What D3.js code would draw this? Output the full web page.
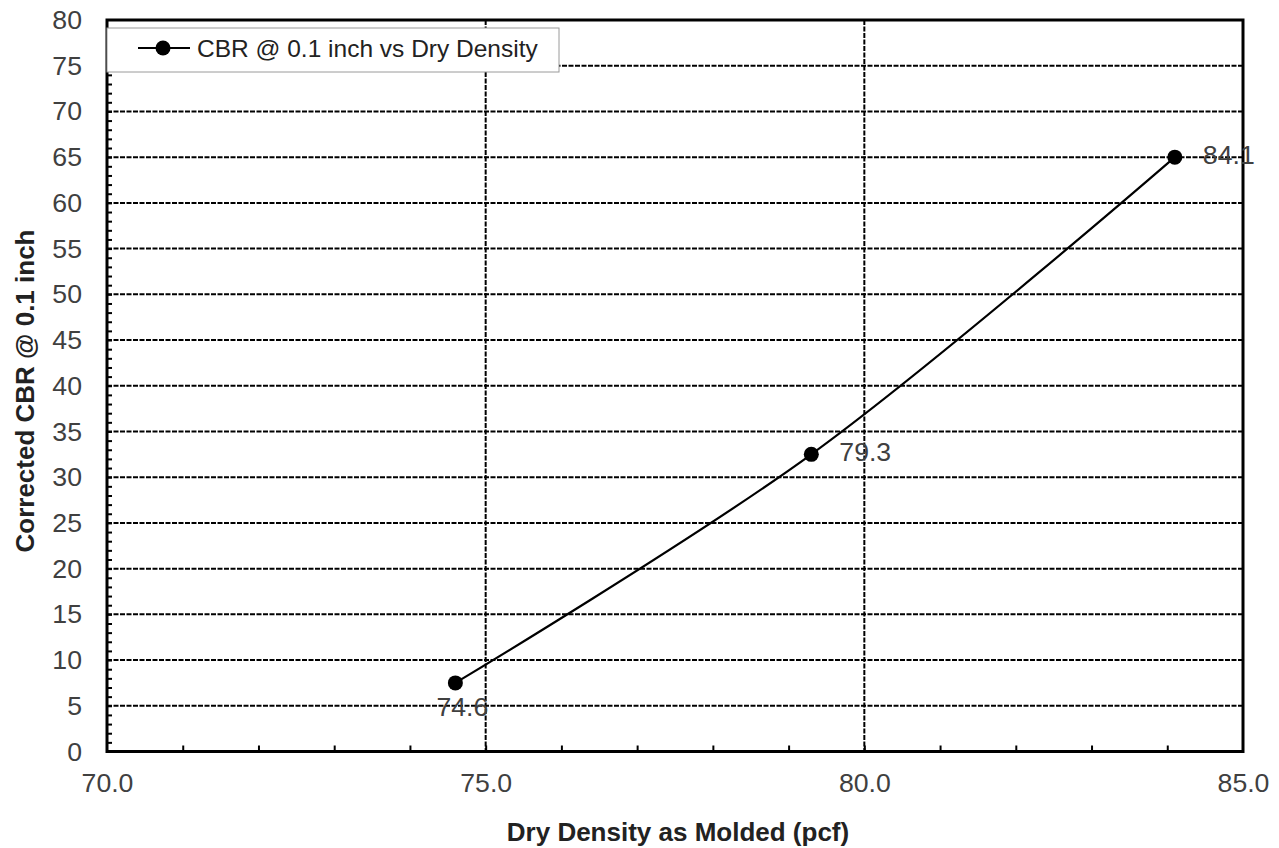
<!DOCTYPE html>
<html>
<head>
<meta charset="utf-8">
<script src="https://cdn.jsdelivr.net/npm/d3@7"></script>
<style>
  body { margin: 0; background: #fff; }
  text { font-family: "Liberation Sans", Arial, sans-serif; }
</style>
</head>
<body>
<div id="chart"></div>
<script>
// data
const densities = [74.6, 79.3, 84.1];
const cbrValues = [7.5, 32.5, 65];
const pointLabels = ['74.6', '79.3', '84.1'];
const labelSide = ['below', 'right', 'right'];
const xTicks = [70, 75, 80, 85];
const yTicks = d3.range(0, 81, 5);
const seriesName = 'CBR @ 0.1 inch vs Dry Density';
const xTitle = 'Dry Density as Molded (pcf)';
const yTitle = 'Corrected CBR @ 0.1 inch';

// svg parameters
const w = 1279;
const h = 848;
const margin = { top: 20, right: 36, bottom: 96.5, left: 107 };
const innerW = w - margin.left - margin.right;
const innerH = h - margin.top - margin.bottom;
const tickFont = '26.67px';

const svg = d3.select('#chart').append('svg')
  .attr('width', w)
  .attr('height', h);

const g = svg.append('g')
  .attr('transform', `translate(${margin.left},${margin.top})`);

const xScale = d3.scaleLinear([70, 85], [0, innerW]);
const yScale = d3.scaleLinear([0, 80], [innerH, 0]);

// grid lines
g.append('g').selectAll('line')
  .data(yTicks.filter((d) => d > 0 && d < 80))
  .join('line')
  .attr('x1', 0)
  .attr('x2', innerW)
  .attr('y1', (d) => yScale(d))
  .attr('y2', (d) => yScale(d))
  .attr('stroke', '#000')
  .attr('stroke-width', 2)
  .attr('stroke-dasharray', '5,1.5');

g.append('g').selectAll('line')
  .data(xTicks.filter((d) => d > 70 && d < 85))
  .join('line')
  .attr('x1', (d) => xScale(d))
  .attr('x2', (d) => xScale(d))
  .attr('y1', 0)
  .attr('y2', innerH)
  .attr('stroke', '#000')
  .attr('stroke-width', 2)
  .attr('stroke-dasharray', '5,1.5');

// minor ticks (inside)
const yMinor = d3.axisRight(yScale).tickValues(d3.range(1, 80)).tickSize(5).tickFormat('');
g.append('g').call(yMinor)
  .call((a) => a.select('.domain').remove())
  .selectAll('line').attr('stroke-width', 2);

const xMinor = d3.axisTop(xScale).tickValues(d3.range(71, 85)).tickSize(6).tickFormat('');
g.append('g').attr('transform', `translate(0,${innerH})`).call(xMinor)
  .call((a) => a.select('.domain').remove())
  .selectAll('line').attr('stroke-width', 2);

// tick labels
const yAxis = d3.axisLeft(yScale).tickValues(yTicks).tickSize(0).tickPadding(25);
g.append('g').call(yAxis)
  .call((a) => a.select('.domain').remove())
  .selectAll('text')
  .style('font-size', tickFont)
  .attr('fill', '#404040');

const xAxis = d3.axisBottom(xScale).tickValues(xTicks).tickSize(0)
  .tickPadding(22).tickFormat(d3.format('.1f'));
g.append('g').attr('transform', `translate(0,${innerH})`).call(xAxis)
  .call((a) => a.select('.domain').remove())
  .selectAll('text')
  .style('font-size', tickFont)
  .attr('fill', '#404040');

// plot frame
g.append('rect')
  .attr('width', innerW)
  .attr('height', innerH)
  .attr('fill', 'none')
  .attr('stroke', '#000')
  .attr('stroke-width', 3);

// series
const points = densities.map((d, i) => ({ x: d, y: cbrValues[i], label: pointLabels[i], side: labelSide[i] }));

const line = d3.line()
  .x((d) => xScale(d.x))
  .y((d) => yScale(d.y))
  .curve(d3.curveCatmullRom.alpha(0.5));

g.append('path')
  .datum(points)
  .attr('d', line)
  .attr('fill', 'none')
  .attr('stroke', '#000')
  .attr('stroke-width', 2.2);

g.selectAll('circle.dot')
  .data(points)
  .join('circle')
  .attr('class', 'dot')
  .attr('cx', (d) => xScale(d.x))
  .attr('cy', (d) => yScale(d.y))
  .attr('r', 7.5)
  .attr('fill', '#000');

g.selectAll('text.dlabel')
  .data(points)
  .join('text')
  .attr('class', 'dlabel')
  .attr('x', (d) => xScale(d.x) + (d.side === 'below' ? 7 : 28))
  .attr('y', (d) => yScale(d.y) + (d.side === 'below' ? 33 : 7))
  .attr('text-anchor', (d) => (d.side === 'below' ? 'middle' : 'start'))
  .style('font-size', tickFont)
  .attr('fill', '#404040')
  .text((d) => d.label);

// legend
const legend = g.append('g').attr('transform', 'translate(0,8)');
legend.append('rect')
  .attr('width', 452)
  .attr('height', 44)
  .attr('fill', '#fff')
  .attr('stroke', '#9a9a9a')
  .attr('stroke-width', 1);
legend.append('line')
  .attr('x1', 31).attr('x2', 83)
  .attr('y1', 20).attr('y2', 20)
  .attr('stroke', '#000').attr('stroke-width', 2.2);
legend.append('circle')
  .attr('cx', 56).attr('cy', 20).attr('r', 7.5)
  .attr('fill', '#000');
legend.append('text')
  .attr('x', 90).attr('y', 29)
  .style('font-size', '24.5px')
  .attr('fill', '#222')
  .text(seriesName);

// axis titles
svg.append('text')
  .attr('x', margin.left + innerW / 2 + 3)
  .attr('y', 841)
  .attr('text-anchor', 'middle')
  .style('font-size', '26px')
  .style('font-weight', 'bold')
  .attr('fill', '#222')
  .text(xTitle);

svg.append('text')
  .attr('transform', 'translate(34,391) rotate(-90)')
  .attr('text-anchor', 'middle')
  .style('font-size', '26px')
  .style('font-weight', 'bold')
  .attr('fill', '#222')
  .text(yTitle);
</script>
</body>
</html>
